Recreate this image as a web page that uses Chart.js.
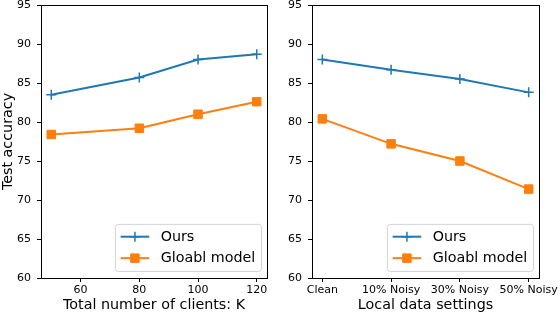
<!DOCTYPE html>
<html>
<head>
<meta charset="utf-8">
<script src="https://cdn.jsdelivr.net/npm/chart.js@4.4.0/dist/chart.umd.min.js"></script>
<style>
  html, body { margin: 0; padding: 0; background: #fff; }
  #wrap { position: relative; width: 560px; height: 316px; }
  .panel { position: absolute; top: 0; width: 280px; height: 316px; }
</style>
</head>
<body>
<div id="wrap">
  <div class="panel" style="left:0"><canvas id="left" width="280" height="316"></canvas></div>
  <div class="panel" style="left:280px"><canvas id="right" width="280" height="316"></canvas></div>
</div>
<script>
// values
const clients = [50, 80, 100, 120];
const oursByClients = [83.5, 85.7, 88.0, 88.7];
const globalByClients = [78.4, 79.2, 81.0, 82.6];

const settings = ['Clean', '10% Noisy', '30% Noisy', '50% Noisy'];
const oursBySetting = [88.0, 86.7, 85.5, 83.8];
const globalBySetting = [80.4, 77.2, 75.0, 71.4];

const yTicks = [60, 65, 70, 75, 80, 85, 90, 95];
const clientTicks = [60, 80, 100, 120];
const seriesNames = ['Ours', 'Gloabl model'];

const BLUE = '#1f77b4';
const ORANGE = '#ff7f0e';
const FONT = 'DejaVu Sans';

Chart.defaults.font.family = FONT;
Chart.defaults.color = '#000';

// black box around the plot area, like matplotlib spines
const frame = {
  id: 'frame',
  afterDatasetsDraw(chart) {
    const { ctx, chartArea: a } = chart;
    ctx.save();
    ctx.strokeStyle = '#000';
    ctx.lineWidth = 1;
    ctx.strokeRect(Math.round(a.left) + 0.5, Math.round(a.top) + 0.5,
      Math.round(a.right - a.left), Math.round(a.bottom - a.top));
    ctx.restore();
  }
};

// legend drawn inside the lower right corner of the plot
const innerLegend = {
  id: 'innerLegend',
  afterDraw(chart) {
    const { ctx, chartArea: a } = chart;
    const fs = 14.3, pad = 5.7, handle = 28.6, gap = 11.4, spacing = 7.15;
    ctx.save();
    ctx.font = fs + 'px ' + FONT;
    const sets = chart.data.datasets;
    const tw = Math.max(...sets.map(d => ctx.measureText(d.label).width));
    const w = pad * 2 + handle + gap + tw;
    const h = pad * 2 + fs * sets.length + spacing * (sets.length - 1);
    const x = a.right - 6 - w;
    const y = a.bottom - 7 - h;
    ctx.beginPath();
    ctx.roundRect(x + 0.5, y + 0.5, w, h, 3);
    ctx.fillStyle = 'rgba(255,255,255,0.8)';
    ctx.fill();
    ctx.strokeStyle = '#d3d3d3';
    ctx.lineWidth = 1;
    ctx.stroke();
    sets.forEach((d, i) => {
      const cy = y + pad + fs / 2 + i * (fs + spacing);
      const hx = x + pad;
      ctx.beginPath();
      ctx.moveTo(hx, cy);
      ctx.lineTo(hx + handle, cy);
      ctx.strokeStyle = d.borderColor;
      ctx.lineWidth = d.borderWidth;
      ctx.stroke();
      ctx.fillStyle = d.pointBackgroundColor;
      ctx.strokeStyle = d.pointBorderColor;
      ctx.lineWidth = d.pointBorderWidth;
      Chart.helpers.drawPoint(ctx, {
        pointStyle: d.pointStyle,
        radius: d.pointRadius,
        borderWidth: d.pointBorderWidth
      }, hx + handle / 2, cy);
      ctx.fillStyle = '#000';
      ctx.textBaseline = 'middle';
      ctx.fillText(d.label, hx + handle + gap, cy + 0.5);
    });
    ctx.restore();
  }
};

function series(label, color, xs, ys, style) {
  return {
    label,
    data: xs.map((x, i) => ({ x, y: ys[i] })),
    borderColor: color,
    backgroundColor: color,
    borderWidth: 2,
    pointStyle: style,
    pointRadius: style === 'cross' ? 5 : 6,
    pointHoverRadius: style === 'cross' ? 5 : 6,
    pointBorderWidth: style === 'cross' ? 1.5 : 1,
    pointBorderColor: color,
    pointBackgroundColor: color,
    tension: 0
  };
}

function makeChart(id, cfg) {
  const ctx = document.getElementById(id).getContext('2d');
  return new Chart(ctx, {
    type: 'line',
    data: { datasets: cfg.datasets },
    options: {
      responsive: false,
      animation: false,
      devicePixelRatio: 1,
      layout: { autoPadding: false, padding: { top: 5, right: cfg.padRight, left: 0, bottom: 0 } },
      plugins: { legend: { display: false }, tooltip: { enabled: false } },
      scales: {
        x: {
          type: 'linear',
          min: cfg.xMin,
          max: cfg.xMax,
          afterBuildTicks: s => { s.ticks = cfg.xTicks.map(v => ({ value: v })); },
          afterFit: s => { s.height = 38; s.paddingLeft = 0; s.paddingRight = 0; },
          grid: { drawOnChartArea: false, color: '#000', tickLength: 4, tickWidth: 1 },
          border: { color: '#000' },
          ticks: {
            font: { size: 11 },
            padding: 2,
            maxRotation: 0,
            autoSkip: false,
            callback: cfg.xLabel
          },
          title: {
            display: true,
            text: cfg.xTitle,
            font: { size: 14.3 },
            padding: { top: 0, bottom: 2 }
          }
        },
        y: {
          min: 60,
          max: 95,
          afterBuildTicks: s => { s.ticks = yTicks.map(v => ({ value: v })); },
          afterFit: s => { s.width = cfg.yWidth; s.paddingTop = 0; s.paddingBottom = 0; },
          grid: { drawOnChartArea: false, color: '#000', tickLength: 4, tickWidth: 1 },
          border: { color: '#000' },
          ticks: { font: { size: 11 }, padding: 6 },
          title: {
            display: !!cfg.yTitle,
            text: cfg.yTitle,
            font: { size: 14.3 },
            padding: { top: 0, bottom: 0 }
          }
        }
      }
    },
    plugins: [frame, innerLegend]
  });
}

makeChart('left', {
  datasets: [
    series(seriesNames[0], BLUE, clients, oursByClients, 'cross'),
    series(seriesNames[1], ORANGE, clients, globalByClients, 'rect')
  ],
  xMin: 46.5,
  xMax: 123.5,
  xTicks: clientTicks,
  xLabel: v => v,
  xTitle: 'Total number of clients: K',
  yTitle: 'Test accuracy',
  yWidth: 41,
  padRight: 13
});

const settingIdx = settings.map((_, i) => i);
makeChart('right', {
  datasets: [
    series(seriesNames[0], BLUE, settingIdx, oursBySetting, 'cross'),
    series(seriesNames[1], ORANGE, settingIdx, globalBySetting, 'rect')
  ],
  xMin: -0.15,
  xMax: 3.15,
  xTicks: settingIdx,
  xLabel: v => settings[v],
  xTitle: 'Local data settings',
  yTitle: '',
  yWidth: 32,
  padRight: 21
});
</script>
</body>
</html>
